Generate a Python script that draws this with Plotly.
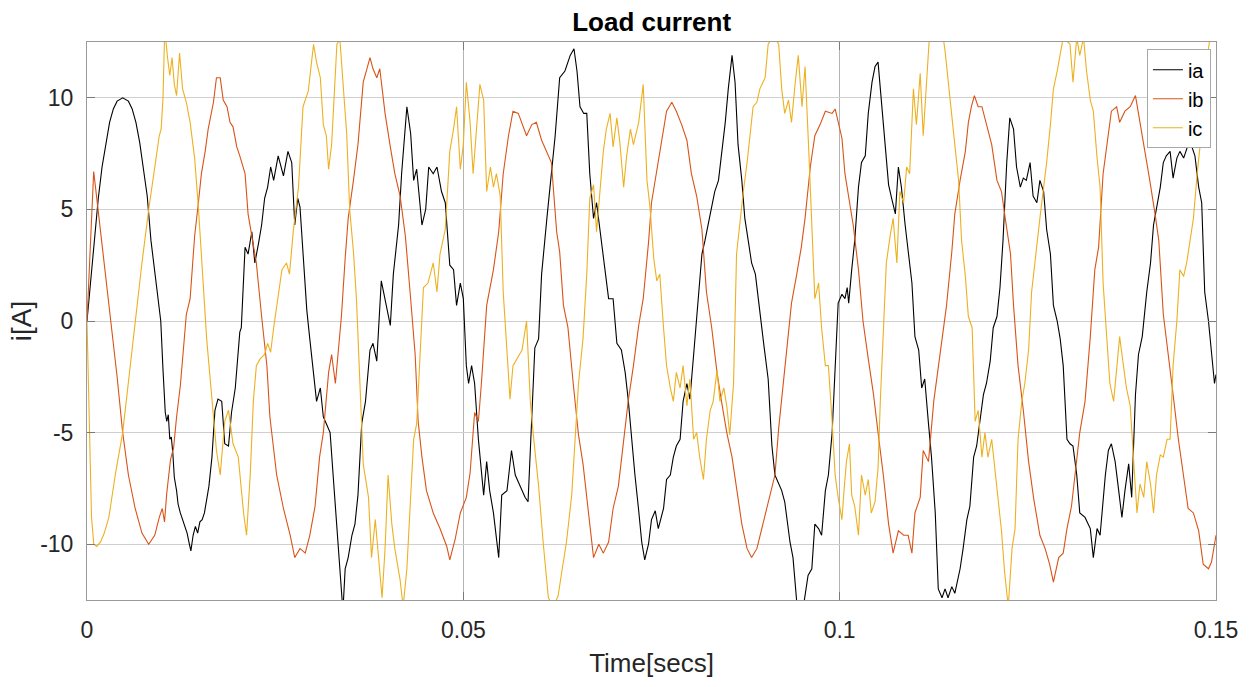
import numpy as np
import plotly.graph_objects as go

# ---- data (time in ms, current in A) ----
ia_samples = [
    (0, 0), (0.5, 1.9), (1, 3.8), (1.5, 5.5), (2, 6.9), (2.5, 8.0), (3, 8.9), (3.5, 9.5), (4, 9.85), (4.75, 10),
    (5.5, 9.85), (6, 9.5), (6.5, 8.9), (7, 8.0), (7.5, 6.9), (8, 5.6), (8.5, 3.6), (9, 2.2), (9.4, 1.0), (9.8, 0),
    (10.1, -2.2), (10.4, -4.1), (10.6, -4.5), (10.8, -4.2), (11.0, -5.3), (11.2, -5.2), (11.4, -5.9), (11.6, -7.0), (11.9, -7.6), (12.1, -8.2),
    (12.4, -8.6), (12.7, -8.9), (13.0, -9.3), (13.3, -9.5), (13.6, -10.0), (13.8, -10.3), (14.1, -9.6), (14.4, -9.2), (14.7, -9.5), (15.0, -9.0),
    (15.3, -8.9), (15.6, -8.6), (15.9, -8.0), (16.2, -7.4), (16.6, -6.1), (16.8, -5.2), (17.0, -4.0), (17.4, -3.5), (17.9, -3.6), (18.3, -5.5),
    (18.8, -5.6), (19.2, -4.1), (19.7, -3.0), (20.3, -0.5), (20.5, -0.3), (21.0, 3.3), (21.4, 3.0), (21.9, 4.0), (22.3, 2.6), (22.8, 3.5),
    (23.2, 4.3), (23.6, 5.5), (24.0, 6.0), (24.4, 6.9), (24.8, 6.3), (25.4, 7.4), (26.1, 6.5), (26.7, 7.6), (27.2, 7.1), (27.6, 4.3),
    (28.0, 5.5), (28.3, 5.1), (28.7, 3.0), (29.2, 0.5), (29.6, -0.8), (30.0, -2.0), (30.3, -3.0), (30.5, -3.6), (31.0, -3.0), (31.4, -4.3),
    (31.8, -4.6), (32.3, -5.0), (32.7, -6.9), (33.2, -9.1), (33.6, -11.0), (34.0, -13.0), (34.3, -11.1), (34.7, -10.6), (35.2, -9.6), (35.6, -9.1),
    (36.0, -7.8), (36.5, -4.6), (37.0, -3.6), (37.6, -1.3), (38.0, -1.0), (38.5, -1.8), (39.1, 1.8), (39.6, 1.0), (40.3, -0.2), (40.7, 2.1),
    (41.4, 4.3), (41.8, 6.6), (42.5, 9.6), (43.0, 8.4), (43.4, 6.3), (43.8, 6.8), (44.5, 4.3), (45.0, 5.0), (45.4, 6.9), (46.0, 6.6),
    (46.5, 6.9), (47.1, 5.8), (47.6, 5.3), (48.2, 2.5), (48.7, 2.3), (49.1, 0.7), (49.6, 1.7), (50.0, 1.0), (50.4, -2.0), (50.7, -2.8),
    (51.1, -2.0), (51.5, -2.8), (52.0, -5.3), (52.7, -7.8), (53.1, -6.3), (53.5, -7.6), (54.0, -8.6), (54.7, -10.6), (55.1, -7.8), (55.8, -7.6),
    (56.4, -5.8), (56.9, -6.9), (57.5, -7.4), (58.2, -7.9), (58.6, -8.1), (59.1, -4.5), (59.5, -1.2), (60.0, -0.8), (60.4, 2.1), (61.1, 4.6),
    (61.7, 6.8), (62.2, 8.3), (62.8, 10.9), (63.5, 11.2), (64.2, 11.9), (64.7, 12.2), (65.1, 11.2), (65.5, 9.6), (66.0, 9.3), (66.4, 9.3),
    (66.8, 6.6), (67.3, 4.6), (67.7, 5.3), (68.2, 4.0), (68.6, 2.8), (69.3, 1.0), (69.9, 1.0), (70.4, -1.0), (71.0, -1.3), (71.5, -2.3),
    (71.9, -3.5), (72.4, -5.5), (72.8, -6.9), (73.3, -8.5), (73.7, -9.9), (74.1, -10.7), (74.6, -10.0), (75.0, -8.9), (75.5, -8.5), (75.9, -9.3),
    (76.3, -8.7), (76.6, -8.4), (77.0, -7.1), (77.5, -6.9), (77.9, -6.1), (78.3, -5.6), (78.8, -5.3), (79.2, -3.6), (79.7, -2.8), (80.1, -3.5),
    (80.6, -1.5), (81.0, 0.0), (81.7, 3.0), (82.1, 3.6), (82.6, 4.5), (83.0, 5.1), (83.4, 5.8), (83.9, 6.3), (84.3, 7.4), (84.8, 8.9),
    (85.2, 10.4), (85.7, 11.9), (86.1, 10.7), (86.5, 7.9), (87.0, 6.3), (87.4, 4.6), (87.9, 3.5), (88.3, 2.6), (88.8, 2.1), (89.4, 0.3),
    (89.9, -1.0), (90.5, -2.6), (91.0, -5.6), (91.4, -6.9), (91.9, -7.3), (92.3, -7.6), (92.7, -8.1), (93.4, -9.9), (93.8, -10.6), (94.3, -12.6),
    (95.0, -13.2), (95.8, -11.4), (96.3, -11.1), (96.7, -9.1), (97.2, -9.3), (97.6, -9.6), (98.1, -7.6), (98.5, -6.9), (99.0, -5.0), (99.4, -1.8),
    (99.8, 0.8), (100.3, 1.2), (100.7, 1.0), (101.0, 1.5), (101.2, 0.8), (101.6, 2.3), (102.0, 3.6), (102.5, 6.0), (102.9, 7.1), (103.4, 7.4),
    (103.8, 9.3), (104.3, 10.7), (104.7, 11.4), (105.1, 11.6), (105.6, 9.6), (106.0, 7.9), (106.5, 6.1), (106.9, 5.5), (107.4, 4.8), (107.8, 6.9),
    (108.2, 6.0), (108.7, 4.3), (109.1, 3.0), (109.6, 1.7), (110.0, -0.7), (110.5, -1.3), (110.9, -3.0), (111.3, -2.6), (111.8, -4.6), (112.2, -6.1),
    (112.7, -8.6), (113.1, -12.0), (113.6, -12.4), (114.0, -12.0), (114.4, -12.4), (114.9, -11.9), (115.3, -12.2), (116.0, -11.1), (116.4, -10.2), (116.9, -8.9),
    (117.3, -8.3), (117.8, -6.1), (118.2, -5.6), (118.6, -4.6), (119.1, -3.3), (119.5, -2.8), (120.0, -1.8), (120.4, -0.3), (120.9, 0.2), (121.3, 1.5),
    (121.7, 3.6), (122.2, 7.1), (122.6, 9.1), (123.1, 8.6), (123.5, 6.9), (124.0, 6.0), (124.4, 6.4), (124.8, 6.3), (125.3, 7.1), (125.7, 5.6),
    (126.2, 5.3), (126.6, 6.3), (127.1, 5.8), (127.5, 4.1), (128.0, 3.0), (128.4, 0.7), (128.9, 0.0), (129.3, -0.8), (129.7, -2.0), (130.2, -5.3),
    (130.6, -5.5), (131.0, -5.6), (131.5, -6.9), (131.9, -8.6), (132.6, -8.8), (133.3, -9.3), (133.7, -10.6), (134.2, -9.3), (134.6, -9.6), (135.3, -6.9),
    (135.7, -5.8), (136.1, -5.5), (136.6, -6.3), (137.0, -7.4), (137.5, -8.8), (137.9, -7.6), (138.4, -6.4), (138.8, -7.9), (139.3, -3.3), (139.7, -1.5),
    (140.2, -0.7), (140.8, 1.3), (141.3, 2.6), (141.7, 4.3), (142.1, 5.1), (142.6, 6.0), (143.0, 7.1), (143.4, 7.4), (143.9, 7.6), (144.3, 6.4),
    (144.8, 7.3), (145.2, 7.6), (145.7, 7.3), (146.5, 8.1), (147.2, 7.4), (147.7, 6.0), (148.1, 5.3), (148.5, 1.3), (149.0, 0.0), (149.4, -1.3),
    (149.8, -2.8), (150.0, -2.4),
]

ib_samples = [
    (0, 0), (0.89, 6.7), (1.5, 4.9), (2.2, 2.9), (3.2, 0.0), (4.0, -2.5), (4.74, -5.0), (5.5, -6.9), (6.4, -8.4), (7.3, -9.5),
    (8.2, -10.0), (9.0, -9.6), (9.6, -8.8), (10.0, -8.4), (10.3, -9.0), (10.6, -7.7), (11.1, -6.2), (11.5, -5.7), (11.9, -4.3), (12.4, -2.9),
    (12.8, -1.3), (13.2, 0.3), (13.7, 1.0), (14.3, 3.8), (14.8, 5.3), (15.2, 6.6), (15.7, 7.6), (16.1, 8.6), (16.8, 9.8), (17.2, 10.9),
    (17.7, 10.9), (18.1, 9.9), (18.6, 9.6), (19.0, 8.9), (19.4, 8.7), (19.9, 7.8), (20.3, 7.4), (21.0, 6.6), (21.4, 4.8), (22.1, 3.3),
    (22.5, 2.6), (23.2, 0.2), (23.9, -2.0), (24.3, -4.3), (24.8, -5.6), (25.2, -6.9), (26.1, -8.4), (27.0, -9.6), (27.6, -10.6), (28.3, -10.2),
    (29.0, -10.4), (29.6, -9.6), (30.3, -8.3), (30.9, -6.1), (31.4, -5.0), (32.1, -2.3), (32.5, -1.5), (33.0, -2.8), (33.4, -1.3), (33.8, 0.2),
    (34.3, 2.8), (34.7, 4.6), (35.4, 6.3), (36.0, 7.9), (36.7, 10.7), (37.6, 11.8), (38.0, 11.3), (38.5, 10.9), (38.9, 11.3), (39.6, 9.3),
    (40.3, 7.8), (40.9, 6.6), (41.6, 5.6), (42.3, 3.8), (43.0, 1.0), (43.6, -1.5), (44.0, -4.5), (44.5, -6.1), (45.1, -7.6), (46.0, -8.6),
    (46.9, -9.3), (47.8, -10.1), (48.2, -10.7), (48.9, -9.8), (49.6, -8.6), (50.4, -7.9), (50.9, -6.8), (51.5, -4.1), (52.0, -4.5), (52.4, -2.8),
    (53.1, 0.7), (54.0, 2.3), (54.7, 4.0), (55.3, 6.6), (56.0, 8.3), (56.6, 9.4), (57.3, 9.3), (57.7, 8.9), (58.4, 8.3), (59.1, 8.8),
    (59.7, 8.9), (60.4, 8.1), (61.1, 7.6), (61.7, 7.1), (62.4, 4.0), (62.8, 3.1), (63.3, 0.7), (63.9, -0.3), (64.6, -2.8), (65.3, -5.1),
    (65.9, -6.4), (66.6, -8.6), (67.3, -10.6), (68.0, -10.0), (68.6, -10.4), (69.3, -9.9), (69.9, -8.4), (70.6, -7.4), (71.3, -5.3), (71.9, -3.6),
    (72.6, -2.0), (73.3, -0.2), (73.9, 1.0), (74.6, 3.5), (75.0, 5.3), (75.7, 6.8), (76.4, 8.3), (77.0, 9.4), (77.7, 9.8), (78.3, 9.4),
    (79.0, 8.8), (79.7, 8.1), (80.3, 6.6), (81.0, 5.6), (81.7, 4.1), (82.3, 1.3), (83.0, -0.3), (83.7, -2.3), (84.3, -3.6), (85.0, -5.0),
    (85.7, -6.1), (86.3, -7.4), (87.0, -9.1), (87.7, -10.2), (88.3, -10.6), (89.0, -10.2), (89.6, -9.4), (90.3, -8.4), (90.9, -7.6), (91.4, -6.9),
    (91.9, -4.8), (92.5, -2.8), (93.0, -1.2), (93.6, 0.8), (94.3, 2.1), (94.9, 3.3), (95.4, 4.6), (96.1, 6.9), (96.7, 8.3), (97.4, 8.8),
    (98.1, 9.4), (99.0, 9.3), (99.4, 9.5), (99.8, 8.9), (100.3, 8.2), (100.7, 6.6), (101.4, 5.0), (101.8, 4.3), (102.5, 2.3), (103.1, 0.0),
    (103.8, -1.7), (104.5, -3.3), (105.1, -5.0), (105.8, -6.9), (106.5, -9.1), (107.1, -10.4), (107.8, -9.4), (108.5, -9.6), (109.1, -9.6), (109.6, -10.4),
    (110.0, -8.6), (110.7, -7.9), (111.1, -5.8), (111.8, -6.3), (112.5, -3.6), (112.9, -2.6), (113.6, -0.7), (114.2, 0.7), (114.9, 3.1), (115.3, 4.8),
    (116.0, 6.3), (116.7, 7.6), (117.1, 8.9), (117.5, 9.6), (117.9, 10.1), (118.4, 9.6), (118.9, 9.6), (119.5, 8.8), (120.2, 7.9), (120.9, 6.3),
    (121.5, 5.8), (122.0, 4.6), (122.7, 3.0), (123.1, 0.7), (123.7, -2.0), (124.4, -4.0), (125.1, -6.3), (125.8, -8.0), (126.6, -9.6), (127.3, -10.2),
    (127.9, -10.9), (128.4, -11.7), (129.1, -10.6), (129.7, -10.4), (130.2, -9.3), (130.8, -8.3), (131.5, -6.1), (131.9, -5.0), (132.6, -3.6), (133.3, -0.7),
    (133.9, 2.3), (134.4, 3.3), (135.0, 6.6), (135.7, 8.3), (136.1, 9.4), (136.8, 9.6), (137.2, 8.9), (137.9, 9.4), (138.6, 9.6), (139.3, 10.1),
    (139.9, 8.9), (140.6, 7.6), (141.2, 6.3), (141.9, 4.8), (142.4, 3.6), (143.0, 0.3), (143.7, -1.5), (144.3, -3.3), (145.0, -5.3), (145.7, -6.9),
    (146.3, -8.4), (147.0, -8.6), (147.7, -9.4), (148.3, -10.9), (149.0, -11.1), (149.4, -10.8), (149.9, -9.8), (150.0, -9.6),
]

ic_samples = [
    (0, 0), (0.3, -5.0), (0.6, -8.8), (0.9, -10.0), (1.3, -10.1), (1.8, -9.9), (2.3, -9.5), (2.9, -8.8), (3.8, -6.8), (4.74, -5.0),
    (5.5, -2.7), (6.4, 0.0), (7.3, 2.6), (8.2, 5.0), (9.0, 7.0), (9.6, 8.3), (9.85, 8.6), (10.1, 10.0), (10.3, 12.7), (10.5, 12.5),
    (10.7, 11.8), (11.0, 11.0), (11.3, 11.8), (11.6, 10.6), (11.9, 10.1), (12.3, 12.0), (12.7, 10.4), (13.2, 9.8), (13.7, 8.9), (14.3, 7.3),
    (14.8, 5.1), (15.2, 3.0), (15.9, -0.8), (16.6, -3.5), (17.2, -5.8), (17.7, -6.9), (18.3, -4.5), (18.8, -4.0), (19.4, -5.5), (20.1, -6.1),
    (20.8, -8.6), (21.2, -9.6), (21.7, -6.8), (22.1, -3.6), (22.5, -2.0), (23.0, -1.7), (23.6, -1.5), (24.0, -1.0), (24.4, -1.4), (24.8, -0.3),
    (25.2, 0.7), (25.9, 2.3), (26.5, 2.6), (26.9, 2.1), (27.4, 4.0), (28.1, 6.0), (28.7, 9.6), (29.4, 10.3), (30.1, 12.4), (30.5, 11.6),
    (31.0, 10.9), (31.4, 8.8), (31.8, 8.3), (32.1, 6.8), (32.5, 7.9), (33.2, 12.4), (33.6, 12.6), (34.1, 10.4), (34.5, 8.4), (34.9, 5.0),
    (35.4, 3.1), (35.8, 1.0), (36.3, -3.6), (36.7, -6.4), (37.4, -7.9), (37.8, -10.6), (38.3, -8.9), (38.7, -10.6), (39.2, -12.4), (39.6, -10.2),
    (40.0, -6.9), (40.5, -9.1), (40.9, -10.2), (41.6, -11.6), (42.0, -12.8), (42.5, -11.1), (42.9, -8.4), (43.4, -5.3), (43.8, -4.6), (44.2, -2.0),
    (44.7, 1.5), (45.3, 1.7), (46.0, 2.6), (46.5, 1.3), (46.9, 3.0), (47.6, 4.1), (48.2, 7.6), (48.7, 8.6), (49.1, 9.6), (49.6, 6.8),
    (50.0, 7.9), (50.4, 10.7), (50.9, 8.9), (51.3, 6.6), (51.8, 8.8), (52.2, 10.6), (52.7, 9.9), (53.1, 5.8), (53.6, 6.9), (54.0, 6.0),
    (54.4, 6.6), (54.9, 5.6), (55.3, 1.3), (55.8, -1.2), (56.2, -3.5), (56.6, -2.0), (57.1, -1.7), (57.8, -1.3), (58.4, 0.0), (58.9, -3.6),
    (59.3, -5.1), (60.0, -7.4), (60.6, -9.9), (61.3, -12.4), (62.0, -12.8), (62.6, -12.3), (63.1, -11.2), (63.7, -9.9), (64.4, -7.8), (64.8, -5.6),
    (65.3, -2.8), (65.9, -0.8), (66.4, 2.1), (66.8, 5.5), (67.3, 6.1), (67.7, 4.0), (68.2, 6.0), (68.6, 7.6), (69.0, 8.6), (69.5, 9.3),
    (69.9, 7.8), (70.4, 9.1), (70.8, 8.0), (71.3, 6.0), (71.7, 7.4), (72.2, 8.6), (72.6, 7.9), (73.3, 8.9), (73.9, 10.6), (74.4, 6.3),
    (74.8, 5.1), (75.3, 2.8), (75.7, 1.8), (76.1, 2.1), (76.6, -0.3), (77.0, -2.0), (77.5, -3.0), (77.9, -3.6), (78.3, -2.3), (78.8, -3.0),
    (79.2, -2.0), (79.7, -3.8), (80.1, -2.6), (80.6, -5.3), (81.0, -5.0), (81.4, -6.1), (81.9, -7.1), (82.3, -5.3), (82.8, -4.0), (83.2, -3.6),
    (83.7, -2.2), (84.1, -3.6), (84.6, -3.0), (85.0, -3.8), (85.4, -5.1), (85.9, -2.8), (86.3, 3.0), (86.8, 4.6), (87.2, 5.8), (87.7, 7.1),
    (88.1, 8.3), (88.5, 9.6), (89.0, 9.8), (89.4, 10.4), (90.1, 10.9), (90.5, 12.4), (91.2, 12.8), (91.9, 12.4), (92.3, 10.4), (92.7, 9.3),
    (93.2, 9.9), (93.6, 8.9), (94.1, 10.7), (94.5, 11.9), (95.0, 9.6), (95.4, 11.4), (95.9, 7.6), (96.3, 4.3), (96.7, 1.0), (97.2, 1.7),
    (97.6, -0.3), (98.1, -2.0), (98.5, -2.0), (99.0, -4.5), (99.4, -6.9), (99.8, -7.9), (100.3, -8.9), (100.6, -7.5), (100.9, -6.3), (101.3, -5.5),
    (101.6, -7.8), (102.0, -8.3), (102.5, -9.6), (102.9, -6.9), (103.4, -7.8), (103.8, -7.1), (104.2, -8.6), (104.7, -8.1), (105.1, -6.6), (105.4, -3.6),
    (105.8, -0.3), (106.2, 2.6), (106.7, 3.8), (107.1, 4.6), (107.6, 2.6), (108.0, 5.8), (108.5, 5.3), (108.9, 6.9), (109.3, 6.6), (109.8, 10.4),
    (110.2, 8.8), (110.7, 11.1), (111.1, 8.3), (111.6, 11.2), (111.9, 12.6), (112.9, 13.8), (113.8, 12.6), (114.0, 12.1), (114.4, 10.7), (114.9, 9.1),
    (115.3, 7.9), (115.8, 6.3), (116.2, 3.6), (116.7, 2.0), (117.1, 0.2), (117.6, -0.3), (118.0, -4.5), (118.4, -4.0), (118.9, -6.1), (119.3, -5.0),
    (119.7, -6.1), (120.2, -5.3), (120.6, -6.6), (121.1, -7.9), (121.5, -9.4), (121.9, -11.2), (122.4, -12.8), (122.9, -10.2), (123.3, -9.3), (123.7, -5.3),
    (124.2, -3.6), (124.6, -2.8), (125.1, -1.3), (125.5, 1.3), (125.9, 2.6), (126.3, 3.8), (126.6, 4.6), (127.1, 6.0), (127.5, 7.1), (128.0, 8.8),
    (128.4, 10.4), (128.9, 11.2), (129.3, 11.9), (129.7, 12.7), (130.6, 12.4), (131.0, 10.7), (131.5, 12.7), (131.9, 11.9), (132.4, 12.7), (132.8, 11.2),
    (133.3, 9.9), (133.7, 9.4), (134.2, 7.3), (134.6, 6.0), (135.0, 1.7), (135.5, -0.8), (135.9, -2.8), (136.4, -3.6), (136.8, -2.3), (137.2, -0.7),
    (137.7, -2.0), (138.1, -3.0), (138.6, -3.8), (139.0, -6.1), (139.5, -8.6), (139.9, -7.3), (140.4, -7.9), (140.8, -6.3), (141.3, -7.3), (141.7, -8.6),
    (142.1, -6.9), (142.6, -6.0), (143.0, -6.1), (143.5, -5.3), (143.9, -5.3), (144.3, -2.0), (144.8, 0.0), (145.2, 2.3), (145.7, 2.0), (146.1, 2.6),
    (146.6, 3.6), (147.0, 4.6), (147.5, 6.6), (147.9, 7.9), (148.3, 10.4), (148.8, 11.6), (149.2, 12.7), (149.9, 12.6), (150.0, 12.6),
]

series_names = ["ia", "ib", "ic"]
series_colors = ["#000000", "#D95319", "#EDB120"]
x_tick_vals = [0, 0.05, 0.1, 0.15]
x_tick_text = ["0", "0.05", "0.1", "0.15"]
y_tick_vals = [-10, -5, 0, 5, 10]
y_tick_text = ["-10", "-5", "0", "5", "10"]

FONT = "Liberation Sans, Arial, Helvetica, sans-serif"

fig = go.Figure()
for name, color, samples in zip(series_names, series_colors, [ia_samples, ib_samples, ic_samples]):
    t_ms = np.array([p[0] for p in samples], dtype=float)
    vals = np.array([p[1] for p in samples], dtype=float)
    fig.add_trace(go.Scatter(
        x=t_ms / 1000.0, y=vals, mode="lines", name=name,
        line=dict(color=color, width=1.1),
    ))

axis_common = dict(
    showline=True, linecolor="#9a9a9a", linewidth=1, mirror="ticks",
    ticks="inside", ticklen=8, tickcolor="#7a7a7a", zeroline=False,
    tickfont=dict(family=FONT, size=23, color="#262626"),
)

fig.update_layout(
    width=1252, height=687, autosize=False,
    margin=dict(l=87, r=36, t=42, b=87),
    paper_bgcolor="white", plot_bgcolor="white",
    title=dict(text="<b>Load current</b>", x=0.5205, xanchor="center",
               y=1 - 22 / 687, yanchor="middle", yref="container",
               font=dict(family=FONT, size=26, color="#000000")),
    xaxis=dict(range=[0, 0.15], tickvals=x_tick_vals, ticktext=x_tick_text,
               showgrid=True, gridcolor="#b4b4b4", gridwidth=1,
               ticklabelstandoff=9,
               title=dict(text="Time[secs]", standoff=12,
                          font=dict(family=FONT, size=26, color="#262626")),
               **axis_common),
    yaxis=dict(range=[-12.5, 12.5], tickvals=y_tick_vals, ticktext=y_tick_text,
               showgrid=True, gridcolor="#cfcfcf", gridwidth=1,
               ticklabelstandoff=8,
               title=dict(text="i[A]", standoff=0,
                          font=dict(family=FONT, size=28, color="#262626")),
               **axis_common),
    legend=dict(x=0.9955, xanchor="right", y=0.987, yanchor="top",
                bgcolor="white", bordercolor="#a8a8a8", borderwidth=1,
                font=dict(family=FONT, size=20, color="#000000"),
                tracegroupgap=0),
    showlegend=True,
)

fig.write_html("out.html")
